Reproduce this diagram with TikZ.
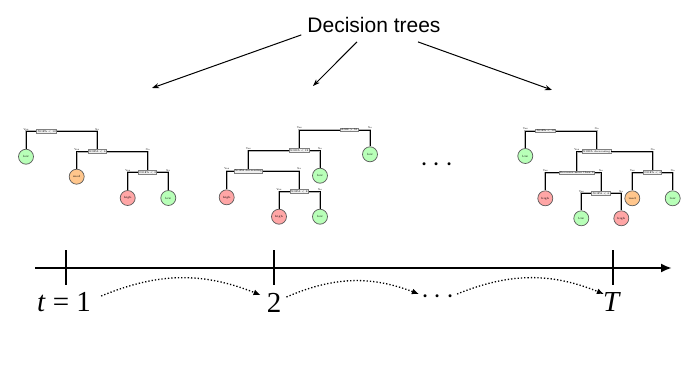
\documentclass[tikz,border=0pt]{standalone}
\usepackage{fix-cm}
\usepackage{fontspec}
\newfontfamily\labelfont{Liberation Sans}
\newfontfamily\timefont{Liberation Serif}
\usetikzlibrary{arrows.meta}

\tikzset{
  test/.style={draw=black!50, line width=0.9pt, fill=gray!12, inner sep=0.8pt,
    font=\fontsize{2.6}{3}\selectfont},
  leaf/.style={circle, draw=black!65, line width=0.7pt, minimum size=15pt,
    inner sep=0pt, font=\fontsize{3}{3.5}\selectfont},
  lowleaf/.style={leaf, fill=green!28!white},
  medleaf/.style={leaf, fill=orange!45!white},
  highleaf/.style={leaf, fill=red!35!white},
  branch/.style={line width=0.9pt, preaction={draw=black!30, line width=1.8pt}},
  yn/.style={above=0.6pt, inner sep=0pt, font=\fontsize{2.5}{3}\selectfont},
  pointer/.style={line width=1pt, -{Stealth[length=7pt,width=5pt]}},
  axis/.style={line width=2.2pt, -{Latex[length=11pt,width=9pt]}},
  tick/.style={line width=1.2pt},
  hop/.style={dotted, line width=1.3pt, -{Latex[length=7pt,width=6pt]}},
  big/.style={font=\timefont\fontsize{29}{32}\selectfont, inner sep=2pt}
}

\begin{document}
\begin{tikzpicture}[x=1pt, y=-1pt]
  \useasboundingbox (0,0) rectangle (689,391);

  % title and pointers
  \node[font=\labelfont\fontsize{21}{24}\selectfont, inner sep=0pt] (title) at (374,25) {Decision trees};
  \coordinate (e1) at (152,88);
  \coordinate (e2) at (313,86);
  \coordinate (e3) at (552,90);
  \draw[pointer] ([xshift=-6pt,yshift=-2pt]title.south west) -- (e1);
  \draw[pointer] ([xshift=-17pt,yshift=-9pt]title.south) -- (e2);
  \draw[pointer] ([xshift=44pt,yshift=-9pt]title.south) -- (e3);

  % tree at t = 1
  \node[test] (t1n1) at (46.7,131.3) {NOFA < 12};
  \node[test] (t1n2) at (97.3,151.7) {NOFA < 6};
  \node[test] (t1n3) at (147.7,172.3) {NOFA < 3};
  \node[lowleaf] (t1l1) at (26,156.7) {low};
  \node[medleaf] (t1l2) at (76.7,176.7) {med};
  \node[highleaf] (t1l3) at (127.7,198) {high};
  \node[lowleaf] (t1l4) at (168.3,198) {low};
  \draw[branch] (t1n1.west) -| node[yn]{Yes} (t1l1.north);
  \draw[branch] (t1n1.east) -| node[yn]{No} (t1n2.north);
  \draw[branch] (t1n2.west) -| node[yn]{Yes} (t1l2.north);
  \draw[branch] (t1n2.east) -| node[yn]{No} (t1n3.north);
  \draw[branch] (t1n3.west) -| node[yn]{Yes} (t1l3.north);
  \draw[branch] (t1n3.east) -| node[yn]{No} (t1l4.north);

  % tree at t = 2
  \node[test] (t2n1) at (349.3,130) {AGE > 55};
  \node[test] (t2n2) at (299.3,150.7) {NOFA < 12};
  \node[test] (t2n3) at (248.3,171) {NOFA decreasing};
  \node[test] (t2n4) at (299.3,191.7) {NOFA < 8};
  \node[lowleaf] (t2l1) at (370,154.3) {low};
  \node[lowleaf] (t2l2) at (320,175.7) {low};
  \node[highleaf] (t2l3) at (226.7,197.3) {high};
  \node[highleaf] (t2l4) at (279,216.7) {high};
  \node[lowleaf] (t2l5) at (320,216.7) {low};
  \draw[branch] (t2n1.west) -| node[yn]{Yes} (t2n2.north);
  \draw[branch] (t2n1.east) -| node[yn]{No} (t2l1.north);
  \draw[branch] (t2n2.west) -| node[yn]{Yes} (t2n3.north);
  \draw[branch] (t2n2.east) -| node[yn]{No} (t2l2.north);
  \draw[branch] (t2n3.west) -| node[yn]{Yes} (t2l3.north);
  \draw[branch] (t2n3.east) -| node[yn]{No} (t2n4.north);
  \draw[branch] (t2n4.west) -| node[yn]{Yes} (t2l4.north);
  \draw[branch] (t2n4.east) -| node[yn]{No} (t2l5.north);

  \node[big] (gap) at (437,165) {$\cdots$};

  % tree at t = T
  \node[test] (t3n1) at (545.7,131) {NOFA < 12};
  \node[test] (t3n2) at (596.7,151.7) {NOFA decreasing};
  \node[test] (t3n3) at (576.7,172.7) {Decrease more than 3};
  \node[test] (t3n4) at (601,193.3) {NOFA < 6};
  \node[test] (t3n5) at (652.7,172.7) {NOFA < 4};
  \node[lowleaf] (t3l1) at (525.3,156) {low};
  \node[highleaf] (t3l2) at (545.3,198.3) {high};
  \node[lowleaf] (t3l3) at (581.3,218.3) {low};
  \node[highleaf] (t3l4) at (621.3,218.3) {high};
  \node[medleaf] (t3l5) at (632.3,198.3) {med};
  \node[lowleaf] (t3l6) at (672.7,198.3) {low};
  \draw[branch] (t3n1.west) -| node[yn]{Yes} (t3l1.north);
  \draw[branch] (t3n1.east) -| node[yn]{No} (t3n2.north);
  \draw[branch] (t3n2.west) -| node[yn]{Yes} (t3n3.north);
  \draw[branch] (t3n2.east) -| node[yn]{No} (t3n5.north);
  \draw[branch] (t3n3.west) -| node[yn]{Yes} (t3l2.north);
  \draw[branch] (t3n3.east) -| node[yn]{No} (t3n4.north);
  \draw[branch] (t3n4.west) -| node[yn]{Yes} (t3l3.north);
  \draw[branch] (t3n4.east) -| node[yn]{No} (t3l4.north);
  \draw[branch] (t3n5.west) -| node[yn]{Yes} (t3l5.north);
  \draw[branch] (t3n5.east) -| node[yn]{No} (t3l6.north);

  % time axis
  \coordinate (ax0) at (35,268);
  \coordinate (ax1) at (672,268);
  \draw[axis] (ax0) -- (ax1);
  \foreach \x [count=\i] in {66,274,613} {
    \coordinate (tk\i) at (\x,268);
    \draw[tick] ([yshift=18pt]tk\i) -- ([yshift=-17pt]tk\i);
  }
  \node[big] (lab1) at (64,302) {\textit{t} = 1};
  \node[big] (lab2) at (274,303) {2};
  \node[big] (lab3) at (438,297) {$\cdots$};
  \node[big] (lab4) at (612,302) {\textit{T}};
  \draw[hop] ([xshift=8pt,yshift=6pt]lab1.east) to[bend left=22] ([xshift=-4pt,yshift=8pt]lab2.west);
  \draw[hop] ([xshift=3pt,yshift=6pt]lab2.east) to[bend left=22] ([yshift=3pt]lab3.west);
  \draw[hop] ([yshift=3pt]lab3.east) to[bend left=22] ([xshift=3pt,yshift=8pt]lab4.west);
\end{tikzpicture}
\end{document}
